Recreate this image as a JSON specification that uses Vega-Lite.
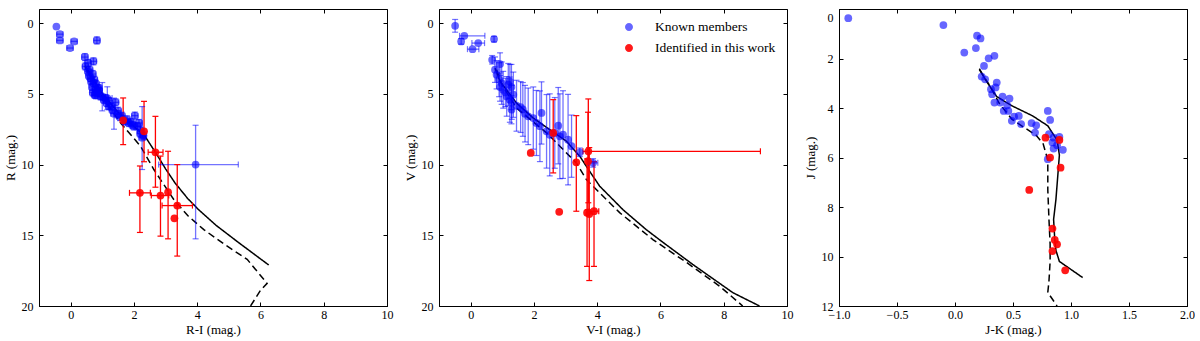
{
"$schema":"https://vega.github.io/schema/vega-lite/v6.json",
"padding":{"left":3,"top":8,"right":0,"bottom":0},
"spacing":52,
"bounds":"flush",
"resolve":{"scale":{"x":"independent","y":"independent","color":"independent","opacity":"independent"}},
"config":{
 "font":"Liberation Serif",
 "view":{"stroke":"black","strokeWidth":1},
 "axis":{"grid":false,"domainColor":"black","tickColor":"black","labelColor":"black","titleColor":"black","labelFontSize":12,"titleFontSize":13,"titleFontWeight":"normal","tickSize":-4,"tickWidth":1,"labelFont":"Liberation Serif","titleFont":"Liberation Serif","labelFlush":false,"labelOverlap":false},
 "axisBottom":{"labelPadding":7,"titleY":23,"titleBaseline":"middle"},
 "axisLeft":{"labelPadding":10,"titleX":-29,"titleBaseline":"middle"},
 "legend":{"labelFont":"Liberation Serif","labelColor":"black"}
},
"datasets":{
"lines":[
{"p":1,"s":"solid","i":0,"x":0.45,"y":3.0},{"p":1,"s":"solid","i":1,"x":0.7,"y":3.9},{"p":1,"s":"solid","i":2,"x":1.0,"y":5.0},{"p":1,"s":"solid","i":3,"x":1.5,"y":6.3},{"p":1,"s":"solid","i":4,"x":2.0,"y":7.3},{"p":1,"s":"solid","i":5,"x":2.35,"y":8.0},{"p":1,"s":"solid","i":6,"x":2.7,"y":9.2},{"p":1,"s":"solid","i":7,"x":3.0,"y":10.3},{"p":1,"s":"solid","i":8,"x":3.3,"y":11.3},{"p":1,"s":"solid","i":9,"x":3.7,"y":12.4},{"p":1,"s":"solid","i":10,"x":4.05,"y":13.2},{"p":1,"s":"solid","i":11,"x":4.6,"y":14.3},{"p":1,"s":"solid","i":12,"x":5.3,"y":15.5},{"p":1,"s":"solid","i":13,"x":6.26,"y":17.1},
{"p":1,"s":"dashed","i":0,"x":0.45,"y":3.05},{"p":1,"s":"dashed","i":1,"x":1.0,"y":5.2},{"p":1,"s":"dashed","i":2,"x":1.58,"y":7.06},{"p":1,"s":"dashed","i":3,"x":2.21,"y":8.7},{"p":1,"s":"dashed","i":4,"x":2.63,"y":10.35},{"p":1,"s":"dashed","i":5,"x":3.0,"y":11.6},{"p":1,"s":"dashed","i":6,"x":3.26,"y":12.47},{"p":1,"s":"dashed","i":7,"x":3.7,"y":13.6},{"p":1,"s":"dashed","i":8,"x":4.21,"y":14.6},{"p":1,"s":"dashed","i":9,"x":4.9,"y":15.7},{"p":1,"s":"dashed","i":10,"x":5.58,"y":16.7},{"p":1,"s":"dashed","i":11,"x":6.21,"y":18.4},{"p":1,"s":"dashed","i":12,"x":6.0,"y":18.9},{"p":1,"s":"dashed","i":13,"x":5.6,"y":20.3},
{"p":2,"s":"solid","i":0,"x":0.77,"y":3.18},{"p":2,"s":"solid","i":1,"x":0.93,"y":4.12},{"p":2,"s":"solid","i":2,"x":1.45,"y":5.65},{"p":2,"s":"solid","i":3,"x":1.98,"y":6.71},{"p":2,"s":"solid","i":4,"x":2.5,"y":7.53},{"p":2,"s":"solid","i":5,"x":3.03,"y":8.35},{"p":2,"s":"solid","i":6,"x":3.45,"y":9.41},{"p":2,"s":"solid","i":7,"x":3.76,"y":10.47},{"p":2,"s":"solid","i":8,"x":4.08,"y":11.53},{"p":2,"s":"solid","i":9,"x":4.82,"y":13.2},{"p":2,"s":"solid","i":10,"x":5.55,"y":14.6},{"p":2,"s":"solid","i":11,"x":6.08,"y":15.5},{"p":2,"s":"solid","i":12,"x":7.02,"y":17.06},{"p":2,"s":"solid","i":13,"x":8.29,"y":19.06},{"p":2,"s":"solid","i":14,"x":9.13,"y":20.0},
{"p":2,"s":"dashed","i":0,"x":0.82,"y":3.29},{"p":2,"s":"dashed","i":1,"x":1.0,"y":4.4},{"p":2,"s":"dashed","i":2,"x":1.45,"y":6.0},{"p":2,"s":"dashed","i":3,"x":2.4,"y":7.76},{"p":2,"s":"dashed","i":4,"x":2.82,"y":8.7},{"p":2,"s":"dashed","i":5,"x":3.34,"y":9.88},{"p":2,"s":"dashed","i":6,"x":3.66,"y":11.06},{"p":2,"s":"dashed","i":7,"x":4.08,"y":12.0},{"p":2,"s":"dashed","i":8,"x":4.71,"y":13.4},{"p":2,"s":"dashed","i":9,"x":5.76,"y":15.3},{"p":2,"s":"dashed","i":10,"x":6.81,"y":16.9},{"p":2,"s":"dashed","i":11,"x":7.87,"y":18.6},{"p":2,"s":"dashed","i":12,"x":8.6,"y":20.0},
{"p":3,"s":"solid","i":0,"x":0.21,"y":2.41},{"p":3,"s":"solid","i":1,"x":0.26,"y":2.84},{"p":3,"s":"solid","i":2,"x":0.36,"y":3.54},{"p":3,"s":"solid","i":3,"x":0.49,"y":3.91},{"p":3,"s":"solid","i":4,"x":0.67,"y":4.32},{"p":3,"s":"solid","i":5,"x":0.8,"y":4.72},{"p":3,"s":"solid","i":6,"x":0.88,"y":5.3},{"p":3,"s":"solid","i":7,"x":0.9,"y":5.9},{"p":3,"s":"solid","i":8,"x":0.89,"y":6.5},{"p":3,"s":"solid","i":9,"x":0.87,"y":7.7},{"p":3,"s":"solid","i":10,"x":0.85,"y":8.5},{"p":3,"s":"solid","i":11,"x":0.86,"y":9.3},{"p":3,"s":"solid","i":12,"x":0.87,"y":9.75},{"p":3,"s":"solid","i":13,"x":0.9,"y":10.2},{"p":3,"s":"solid","i":14,"x":1.1,"y":10.85},
{"p":3,"s":"dashed","i":0,"x":0.21,"y":2.45},{"p":3,"s":"dashed","i":1,"x":0.3,"y":3.1},{"p":3,"s":"dashed","i":2,"x":0.38,"y":3.8},{"p":3,"s":"dashed","i":3,"x":0.49,"y":4.45},{"p":3,"s":"dashed","i":4,"x":0.6,"y":4.8},{"p":3,"s":"dashed","i":5,"x":0.7,"y":5.1},{"p":3,"s":"dashed","i":6,"x":0.76,"y":5.45},{"p":3,"s":"dashed","i":7,"x":0.8,"y":6.1},{"p":3,"s":"dashed","i":8,"x":0.8,"y":7.3},{"p":3,"s":"dashed","i":9,"x":0.81,"y":8.5},{"p":3,"s":"dashed","i":10,"x":0.82,"y":9.5},{"p":3,"s":"dashed","i":11,"x":0.82,"y":10.2},{"p":3,"s":"dashed","i":12,"x":0.81,"y":11.0},{"p":3,"s":"dashed","i":13,"x":0.8,"y":11.45},{"p":3,"s":"dashed","i":14,"x":0.88,"y":12.0}
],
"pts":[
{"p":1,"g":"Known members","x":-0.45,"y":0.24},
{"p":1,"g":"Known members","x":-0.34,"y":0.78,"xlo":-0.44,"xhi":-0.24},
{"p":1,"g":"Known members","x":-0.34,"y":1.22,"xlo":-0.44,"xhi":-0.24},
{"p":1,"g":"Known members","x":-0.02,"y":1.76,"xlo":-0.12,"xhi":0.08},
{"p":1,"g":"Known members","x":0.11,"y":1.29,"xlo":0.01,"xhi":0.21},
{"p":1,"g":"Known members","x":0.83,"y":1.22,"xlo":0.73,"xhi":0.93,"ylo":0.97,"yhi":1.47},
{"p":1,"g":"Known members","x":0.45,"y":2.4,"xlo":0.35,"xhi":0.55,"ylo":2.15,"yhi":2.65},
{"p":1,"g":"Known members","x":0.72,"y":2.7,"xlo":0.62,"xhi":0.82,"ylo":2.45,"yhi":2.95},
{"p":1,"g":"Known members","x":0.55,"y":2.82,"xlo":0.45,"xhi":0.65,"ylo":2.57,"yhi":3.07},
{"p":1,"g":"Known members","x":0.47,"y":3.06,"xlo":0.37,"xhi":0.57,"ylo":2.81,"yhi":3.31},
{"p":1,"g":"Known members","x":0.55,"y":3.41,"xlo":0.45,"xhi":0.65,"ylo":3.16,"yhi":3.66},
{"p":1,"g":"Known members","x":0.58,"y":3.72,"xlo":0.48,"xhi":0.68,"ylo":3.47,"yhi":3.97},
{"p":1,"g":"Known members","x":0.63,"y":3.88,"xlo":0.53,"xhi":0.73,"ylo":3.63,"yhi":4.13},
{"p":1,"g":"Known members","x":0.65,"y":4.12,"xlo":0.55,"xhi":0.75,"ylo":3.87,"yhi":4.37},
{"p":1,"g":"Known members","x":0.72,"y":4.24,"xlo":0.62,"xhi":0.82,"ylo":3.99,"yhi":4.49},
{"p":1,"g":"Known members","x":0.68,"y":4.52,"xlo":0.58,"xhi":0.78,"ylo":4.27,"yhi":4.77},
{"p":1,"g":"Known members","x":0.79,"y":4.71,"xlo":0.69,"xhi":0.89,"ylo":4.46,"yhi":4.96},
{"p":1,"g":"Known members","x":0.76,"y":5.06,"xlo":0.66,"xhi":0.86,"ylo":4.81,"yhi":5.31},
{"p":1,"g":"Known members","x":0.84,"y":4.94,"xlo":0.74,"xhi":0.94,"ylo":4.69,"yhi":5.19},
{"p":1,"g":"Known members","x":0.89,"y":4.59,"xlo":0.79,"xhi":0.99,"ylo":4.34,"yhi":4.84},
{"p":1,"g":"Known members","x":0.95,"y":5.18,"xlo":0.85,"xhi":1.05,"ylo":4.93,"yhi":5.43},
{"p":1,"g":"Known members","x":1.0,"y":5.2,"xlo":0.9,"xhi":1.1,"ylo":4.2,"yhi":6.2},
{"p":1,"g":"Known members","x":1.16,"y":5.3,"xlo":1.01,"xhi":1.31,"ylo":4.5,"yhi":6.1},
{"p":1,"g":"Known members","x":1.05,"y":5.41,"xlo":0.95,"xhi":1.15,"ylo":5.16,"yhi":5.66},
{"p":1,"g":"Known members","x":1.14,"y":5.65,"xlo":1.04,"xhi":1.24,"ylo":5.4,"yhi":5.9},
{"p":1,"g":"Known members","x":1.21,"y":5.88,"xlo":1.11,"xhi":1.31,"ylo":5.63,"yhi":6.13},
{"p":1,"g":"Known members","x":1.42,"y":5.6,"xlo":1.32,"xhi":1.52,"ylo":5.35,"yhi":5.85},
{"p":1,"g":"Known members","x":1.37,"y":6.4,"xlo":1.27,"xhi":1.47,"ylo":5.3,"yhi":7.5},
{"p":1,"g":"Known members","x":1.32,"y":6.12,"xlo":1.22,"xhi":1.42,"ylo":5.87,"yhi":6.37},
{"p":1,"g":"Known members","x":1.48,"y":6.45,"xlo":1.38,"xhi":1.58,"ylo":6.2,"yhi":6.7},
{"p":1,"g":"Known members","x":1.56,"y":6.64,"xlo":1.46,"xhi":1.66,"ylo":6.39,"yhi":6.89},
{"p":1,"g":"Known members","x":1.72,"y":6.95,"xlo":1.62,"xhi":1.82,"ylo":6.7,"yhi":7.2},
{"p":1,"g":"Known members","x":1.84,"y":7.06,"xlo":1.74,"xhi":1.94,"ylo":6.81,"yhi":7.31},
{"p":1,"g":"Known members","x":2.03,"y":6.54,"xlo":1.93,"xhi":2.13,"ylo":6.29,"yhi":6.79},
{"p":1,"g":"Known members","x":1.95,"y":7.18,"xlo":1.85,"xhi":2.05,"ylo":6.93,"yhi":7.43},
{"p":1,"g":"Known members","x":2.11,"y":7.29,"xlo":2.01,"xhi":2.21,"ylo":7.04,"yhi":7.54},
{"p":1,"g":"Known members","x":2.21,"y":7.6,"xlo":2.11,"xhi":2.31,"ylo":7.35,"yhi":7.85},
{"p":1,"g":"Known members","x":2.3,"y":7.95,"xlo":2.2,"xhi":2.4,"ylo":7.7,"yhi":8.2},
{"p":1,"g":"Known members","x":2.16,"y":7.06,"xlo":2.06,"xhi":2.26,"ylo":6.81,"yhi":7.31},
{"p":1,"g":"Known members","x":2.26,"y":8.1,"xlo":2.16,"xhi":2.36,"ylo":5.9,"yhi":10.35},
{"p":1,"g":"Known members","x":0.6,"y":3.3,"xlo":0.5,"xhi":0.7,"ylo":3.05,"yhi":3.55},
{"p":1,"g":"Known members","x":0.7,"y":3.6,"xlo":0.6,"xhi":0.8,"ylo":3.35,"yhi":3.85},
{"p":1,"g":"Known members","x":0.75,"y":4.0,"xlo":0.65,"xhi":0.85,"ylo":3.75,"yhi":4.25},
{"p":1,"g":"Known members","x":0.8,"y":4.3,"xlo":0.7,"xhi":0.9,"ylo":4.05,"yhi":4.55},
{"p":1,"g":"Known members","x":0.85,"y":4.6,"xlo":0.75,"xhi":0.95,"ylo":4.35,"yhi":4.85},
{"p":1,"g":"Known members","x":0.9,"y":4.8,"xlo":0.8,"xhi":1.0,"ylo":4.55,"yhi":5.05},
{"p":1,"g":"Known members","x":0.7,"y":4.9,"xlo":0.6,"xhi":0.8,"ylo":4.65,"yhi":5.15},
{"p":1,"g":"Known members","x":0.8,"y":5.1,"xlo":0.7,"xhi":0.9,"ylo":4.85,"yhi":5.35},
{"p":1,"g":"Known members","x":1.1,"y":5.3,"xlo":1.0,"xhi":1.2,"ylo":5.05,"yhi":5.55},
{"p":1,"g":"Known members","x":1.2,"y":5.5,"xlo":1.1,"xhi":1.3,"ylo":5.25,"yhi":5.75},
{"p":1,"g":"Known members","x":1.3,"y":5.9,"xlo":1.2,"xhi":1.4,"ylo":5.65,"yhi":6.15},
{"p":1,"g":"Known members","x":1.5,"y":6.2,"xlo":1.4,"xhi":1.6,"ylo":5.95,"yhi":6.45},
{"p":1,"g":"Known members","x":1.62,"y":6.55,"xlo":1.52,"xhi":1.72,"ylo":6.3,"yhi":6.8},
{"p":1,"g":"Known members","x":1.78,"y":6.8,"xlo":1.68,"xhi":1.88,"ylo":6.55,"yhi":7.05},
{"p":1,"g":"Known members","x":1.9,"y":7.0,"xlo":1.8,"xhi":2.0,"ylo":6.75,"yhi":7.25},
{"p":1,"g":"Known members","x":2.0,"y":7.3,"xlo":1.9,"xhi":2.1,"ylo":7.05,"yhi":7.55},
{"p":1,"g":"Known members","x":2.2,"y":7.8,"xlo":2.1,"xhi":2.3,"ylo":7.55,"yhi":8.05},
{"p":1,"g":"Known members","x":3.95,"y":10.0,"xlo":2.78,"xhi":5.3,"ylo":7.22,"yhi":15.25},
{"p":1,"g":"Identified in this work","x":1.66,"y":6.87,"ylo":5.29,"yhi":8.59},
{"p":1,"g":"Identified in this work","x":2.32,"y":7.65,"ylo":5.53,"yhi":9.8},
{"p":1,"g":"Identified in this work","x":2.68,"y":9.13,"xlo":2.45,"xhi":2.92,"ylo":6.59,"yhi":11.6},
{"p":1,"g":"Identified in this work","x":2.19,"y":12.0,"xlo":1.86,"xhi":2.52,"ylo":10.1,"yhi":14.8},
{"p":1,"g":"Identified in this work","x":2.84,"y":12.19,"xlo":2.55,"xhi":3.1,"ylo":9.4,"yhi":15.06},
{"p":1,"g":"Identified in this work","x":3.08,"y":11.95,"ylo":9.06,"yhi":15.25},
{"p":1,"g":"Identified in this work","x":3.37,"y":12.9,"xlo":2.89,"xhi":3.85,"ylo":10.0,"yhi":16.47},
{"p":1,"g":"Identified in this work","x":3.28,"y":13.8},
{"p":2,"g":"Known members","x":-0.49,"y":0.19,"ylo":-0.26,"yhi":0.64},
{"p":2,"g":"Known members","x":-0.2,"y":0.9,"xlo":-0.35,"xhi":0.45},
{"p":2,"g":"Known members","x":-0.3,"y":1.29,"ylo":1.09,"yhi":1.49},
{"p":2,"g":"Known members","x":0.24,"y":1.41,"xlo":0.04,"xhi":0.44},
{"p":2,"g":"Known members","x":0.06,"y":1.84,"xlo":-0.1,"xhi":0.26},
{"p":2,"g":"Known members","x":0.74,"y":1.13,"ylo":0.93,"yhi":1.33},
{"p":2,"g":"Known members","x":0.68,"y":2.59,"ylo":2.29,"yhi":2.89},
{"p":2,"g":"Known members","x":0.93,"y":2.89,"ylo":2.1,"yhi":3.7},
{"p":2,"g":"Known members","x":0.77,"y":3.29,"ylo":2.39,"yhi":4.19},
{"p":2,"g":"Known members","x":0.82,"y":3.65,"ylo":2.65,"yhi":4.65},
{"p":2,"g":"Known members","x":0.9,"y":4.0,"ylo":2.8,"yhi":5.2},
{"p":2,"g":"Known members","x":0.98,"y":4.24,"ylo":2.74,"yhi":5.74},
{"p":2,"g":"Known members","x":0.93,"y":4.52,"ylo":3.52,"yhi":5.52},
{"p":2,"g":"Known members","x":1.03,"y":4.71,"ylo":3.41,"yhi":6.01},
{"p":2,"g":"Known members","x":1.19,"y":4.35,"ylo":2.85,"yhi":5.85},
{"p":2,"g":"Known members","x":1.24,"y":4.12,"ylo":2.92,"yhi":5.32},
{"p":2,"g":"Known members","x":1.29,"y":4.52,"ylo":2.92,"yhi":6.12},
{"p":2,"g":"Known members","x":1.14,"y":5.18,"ylo":3.78,"yhi":6.58},
{"p":2,"g":"Known members","x":1.24,"y":5.41,"ylo":3.81,"yhi":7.01},
{"p":2,"g":"Known members","x":1.35,"y":5.06,"ylo":3.46,"yhi":6.66},
{"p":2,"g":"Known members","x":1.29,"y":6.12,"ylo":5.12,"yhi":7.12},
{"p":2,"g":"Known members","x":1.45,"y":5.84,"ylo":4.04,"yhi":7.64},
{"p":2,"g":"Known members","x":1.58,"y":5.93,"ylo":4.13,"yhi":7.73},
{"p":2,"g":"Known members","x":1.82,"y":6.59,"ylo":4.59,"yhi":8.59},
{"p":2,"g":"Known members","x":1.98,"y":6.71,"ylo":4.51,"yhi":8.91},
{"p":2,"g":"Known members","x":2.08,"y":7.06,"ylo":4.76,"yhi":9.36},
{"p":2,"g":"Known members","x":2.24,"y":6.35,"ylo":4.15,"yhi":8.55},
{"p":2,"g":"Known members","x":2.19,"y":7.29,"ylo":4.79,"yhi":9.79},
{"p":2,"g":"Known members","x":2.4,"y":7.65,"ylo":5.05,"yhi":10.25},
{"p":2,"g":"Known members","x":2.77,"y":7.25,"ylo":4.55,"yhi":9.95},
{"p":2,"g":"Known members","x":2.82,"y":8.0,"ylo":5.0,"yhi":11.0},
{"p":2,"g":"Known members","x":2.92,"y":7.88,"ylo":4.78,"yhi":10.98},
{"p":2,"g":"Known members","x":3.08,"y":8.24,"ylo":5.04,"yhi":11.44},
{"p":2,"g":"Known members","x":3.19,"y":8.7,"ylo":6.5,"yhi":10.9},
{"p":2,"g":"Known members","x":3.45,"y":9.13,"ylo":8.83,"yhi":9.43},
{"p":2,"g":"Known members","x":3.87,"y":9.88,"xlo":3.72,"xhi":4.02,"ylo":9.58,"yhi":10.18},
{"p":2,"g":"Known members","x":2.66,"y":7.76,"ylo":5.26,"yhi":10.26},
{"p":2,"g":"Known members","x":1.65,"y":6.1,"ylo":4.2,"yhi":8.0},
{"p":2,"g":"Known members","x":1.72,"y":6.4,"ylo":4.4,"yhi":8.4},
{"p":2,"g":"Known members","x":1.1,"y":4.9,"ylo":3.9,"yhi":5.9},
{"p":2,"g":"Known members","x":1.3,"y":5.6,"ylo":4.4,"yhi":6.8},
{"p":2,"g":"Known members","x":2.5,"y":7.9,"ylo":5.0,"yhi":10.8},
{"p":2,"g":"Identified in this work","x":1.9,"y":9.18},
{"p":2,"g":"Identified in this work","x":2.61,"y":7.76,"ylo":5.41,"yhi":10.59},
{"p":2,"g":"Identified in this work","x":2.8,"y":13.34},
{"p":2,"g":"Identified in this work","x":3.34,"y":9.84,"ylo":6.54,"yhi":13.3},
{"p":2,"g":"Identified in this work","x":3.72,"y":9.06,"xlo":3.55,"xhi":9.16,"ylo":5.36,"yhi":12.7},
{"p":2,"g":"Identified in this work","x":3.71,"y":9.76,"ylo":6.3,"yhi":13.2},
{"p":2,"g":"Identified in this work","x":3.68,"y":13.4,"ylo":9.6,"yhi":17.2},
{"p":2,"g":"Identified in this work","x":3.75,"y":13.5,"ylo":8.8,"yhi":18.2},
{"p":2,"g":"Identified in this work","x":3.9,"y":13.3,"xlo":3.75,"xhi":4.05,"ylo":9.8,"yhi":17.2},
{"p":3,"g":"Known members","x":-0.92,"y":0.37},{"p":3,"g":"Known members","x":-0.1,"y":0.65},{"p":3,"g":"Known members","x":0.19,"y":1.08},{"p":3,"g":"Known members","x":0.22,"y":1.19},{"p":3,"g":"Known members","x":0.08,"y":1.76},{"p":3,"g":"Known members","x":0.18,"y":1.58},{"p":3,"g":"Known members","x":0.29,"y":1.99},{"p":3,"g":"Known members","x":0.34,"y":1.89},{"p":3,"g":"Known members","x":0.25,"y":2.3},{"p":3,"g":"Known members","x":0.23,"y":2.73},{"p":3,"g":"Known members","x":0.26,"y":2.84},{"p":3,"g":"Known members","x":0.36,"y":2.97},{"p":3,"g":"Known members","x":0.31,"y":3.24},{"p":3,"g":"Known members","x":0.35,"y":3.17},{"p":3,"g":"Known members","x":0.32,"y":3.44},{"p":3,"g":"Known members","x":0.34,"y":3.78},{"p":3,"g":"Known members","x":0.41,"y":3.54},{"p":3,"g":"Known members","x":0.47,"y":3.62},{"p":3,"g":"Known members","x":0.39,"y":3.78},{"p":3,"g":"Known members","x":0.45,"y":3.89},{"p":3,"g":"Known members","x":0.42,"y":4.12},{"p":3,"g":"Known members","x":0.46,"y":4.12},{"p":3,"g":"Known members","x":0.51,"y":4.35},{"p":3,"g":"Known members","x":0.55,"y":4.32},{"p":3,"g":"Known members","x":0.49,"y":4.52},{"p":3,"g":"Known members","x":0.57,"y":4.65},{"p":3,"g":"Known members","x":0.66,"y":4.61},{"p":3,"g":"Known members","x":0.7,"y":4.7},{"p":3,"g":"Known members","x":0.69,"y":4.99},{"p":3,"g":"Known members","x":0.8,"y":4.12},{"p":3,"g":"Known members","x":0.82,"y":4.48},{"p":3,"g":"Known members","x":0.81,"y":5.06},{"p":3,"g":"Known members","x":0.85,"y":5.2},{"p":3,"g":"Known members","x":0.9,"y":5.17},{"p":3,"g":"Known members","x":0.88,"y":5.5},{"p":3,"g":"Known members","x":0.85,"y":5.64},{"p":3,"g":"Known members","x":0.93,"y":5.69},{"p":3,"g":"Known members","x":0.84,"y":5.39},{"p":3,"g":"Known members","x":0.8,"y":6.07},
{"p":3,"g":"Identified in this work","x":0.78,"y":5.2},{"p":3,"g":"Identified in this work","x":0.9,"y":5.29},{"p":3,"g":"Identified in this work","x":0.82,"y":6.0},{"p":3,"g":"Identified in this work","x":0.91,"y":6.41},{"p":3,"g":"Identified in this work","x":0.64,"y":7.31},{"p":3,"g":"Identified in this work","x":0.84,"y":8.87},{"p":3,"g":"Identified in this work","x":0.86,"y":9.33},{"p":3,"g":"Identified in this work","x":0.88,"y":9.51},{"p":3,"g":"Identified in this work","x":0.84,"y":9.78},{"p":3,"g":"Identified in this work","x":0.95,"y":10.56}
]
},
"hconcat":[
{
 "width":348,"height":297,
 "resolve":{"axis":{"x":"independent","y":"independent"}},
 "layer":[
  {"data":{"name":"lines"},"transform":[{"filter":"datum.p===1"}],
   "mark":{"type":"line","color":"black","strokeWidth":1.5,"clip":true},
   "encoding":{
    "x":{"field":"x","type":"quantitative","scale":{"domain":[-1,10],"nice":false,"zero":false},"axis":{"orient":"top","values":[0,2,4,6,8,10],"labels":false,"title":null,"domain":false}},
    "y":{"field":"y","type":"quantitative","scale":{"domain":[-1,20],"nice":false,"zero":false,"reverse":true},"axis":{"orient":"right","values":[0,5,10,15,20],"labels":false,"title":null,"domain":false}},
    "detail":{"field":"s"},
    "strokeDash":{"field":"s","type":"nominal","scale":{"domain":["solid","dashed"],"range":[[1,0],[7,4]]},"legend":null},
    "order":{"field":"i"}}},
  {"data":{"name":"pts"},"transform":[{"filter":"datum.p===1 && isValid(datum.ylo)"}],
   "mark":{"type":"rule","strokeWidth":1.3},
   "encoding":{
    "x":{"field":"x","type":"quantitative","scale":{"domain":[-1,10],"nice":false,"zero":false},"axis":null},
    "y":{"field":"ylo","type":"quantitative","scale":{"domain":[-1,20],"nice":false,"zero":false,"reverse":true},"axis":null},
    "y2":{"field":"yhi"},
    "color":{"condition":{"test":"datum.g==='Known members'","value":"#0000ff"},"value":"#ff0000"},
    "opacity":{"condition":{"test":"datum.g==='Known members'","value":0.55},"value":1}}},
  {"data":{"name":"pts"},"transform":[{"filter":"datum.p===1 && isValid(datum.xlo)"}],
   "mark":{"type":"rule","strokeWidth":1.3},
   "encoding":{
    "x":{"field":"xlo","type":"quantitative","scale":{"domain":[-1,10],"nice":false,"zero":false},"axis":null},
    "x2":{"field":"xhi"},
    "y":{"field":"y","type":"quantitative","scale":{"domain":[-1,20],"nice":false,"zero":false,"reverse":true},"axis":null},
    "color":{"condition":{"test":"datum.g==='Known members'","value":"#0000ff"},"value":"#ff0000"},
    "opacity":{"condition":{"test":"datum.g==='Known members'","value":0.55},"value":1}}},
  {"data":{"name":"pts"},"transform":[{"filter":"datum.p===1"},{"fold":["ylo","yhi"],"as":["k","v"]},{"filter":"isValid(datum.v)"}],
   "mark":{"type":"tick","orient":"horizontal","size":6,"thickness":1.2},
   "encoding":{
    "x":{"field":"x","type":"quantitative","scale":{"domain":[-1,10],"nice":false,"zero":false},"axis":null},
    "y":{"field":"v","type":"quantitative","scale":{"domain":[-1,20],"nice":false,"zero":false,"reverse":true},"axis":null},
    "color":{"condition":{"test":"datum.g==='Known members'","value":"#0000ff"},"value":"#ff0000"},
    "opacity":{"condition":{"test":"datum.g==='Known members'","value":0.55},"value":1}}},
  {"data":{"name":"pts"},"transform":[{"filter":"datum.p===1"},{"fold":["xlo","xhi"],"as":["k","v"]},{"filter":"isValid(datum.v)"}],
   "mark":{"type":"tick","orient":"vertical","size":6,"thickness":1.2},
   "encoding":{
    "x":{"field":"v","type":"quantitative","scale":{"domain":[-1,10],"nice":false,"zero":false},"axis":null},
    "y":{"field":"y","type":"quantitative","scale":{"domain":[-1,20],"nice":false,"zero":false,"reverse":true},"axis":null},
    "color":{"condition":{"test":"datum.g==='Known members'","value":"#0000ff"},"value":"#ff0000"},
    "opacity":{"condition":{"test":"datum.g==='Known members'","value":0.55},"value":1}}},
  {"data":{"name":"pts"},"transform":[{"filter":"datum.p===1"}],
   "mark":{"type":"point","filled":true,"shape":"circle","size":60},
   "encoding":{
    "x":{"field":"x","type":"quantitative","scale":{"domain":[-1,10],"nice":false,"zero":false},"axis":{"orient":"bottom","values":[0,2,4,6,8,10],"title":"R-I (mag.)"}},
    "y":{"field":"y","type":"quantitative","scale":{"domain":[-1,20],"nice":false,"zero":false,"reverse":true},"axis":{"orient":"left","values":[0,5,10,15,20],"title":"R (mag.)"}},
    "color":{"condition":{"test":"datum.g==='Known members'","value":"#0000ff"},"value":"#ff0000"},
    "opacity":{"condition":{"test":"datum.g==='Known members'","value":0.6},"value":0.9}}}
 ]
},
{
 "width":348,"height":297,
 "resolve":{"axis":{"x":"independent","y":"independent"}},
 "layer":[
  {"data":{"name":"lines"},"transform":[{"filter":"datum.p===2"}],
   "mark":{"type":"line","color":"black","strokeWidth":1.5,"clip":true},
   "encoding":{
    "x":{"field":"x","type":"quantitative","scale":{"domain":[-1,10],"nice":false,"zero":false},"axis":{"orient":"top","values":[0,2,4,6,8,10],"labels":false,"title":null,"domain":false}},
    "y":{"field":"y","type":"quantitative","scale":{"domain":[-1,20],"nice":false,"zero":false,"reverse":true},"axis":{"orient":"right","values":[0,5,10,15,20],"labels":false,"title":null,"domain":false}},
    "detail":{"field":"s"},
    "strokeDash":{"field":"s","type":"nominal","scale":{"domain":["solid","dashed"],"range":[[1,0],[7,4]]},"legend":null},
    "order":{"field":"i"}}},
  {"data":{"name":"pts"},"transform":[{"filter":"datum.p===2 && isValid(datum.ylo)"}],
   "mark":{"type":"rule","strokeWidth":1.3},
   "encoding":{
    "x":{"field":"x","type":"quantitative","scale":{"domain":[-1,10],"nice":false,"zero":false},"axis":null},
    "y":{"field":"ylo","type":"quantitative","scale":{"domain":[-1,20],"nice":false,"zero":false,"reverse":true},"axis":null},
    "y2":{"field":"yhi"},
    "color":{"condition":{"test":"datum.g==='Known members'","value":"#0000ff"},"value":"#ff0000"},
    "opacity":{"condition":{"test":"datum.g==='Known members'","value":0.55},"value":1}}},
  {"data":{"name":"pts"},"transform":[{"filter":"datum.p===2 && isValid(datum.xlo)"}],
   "mark":{"type":"rule","strokeWidth":1.3},
   "encoding":{
    "x":{"field":"xlo","type":"quantitative","scale":{"domain":[-1,10],"nice":false,"zero":false},"axis":null},
    "x2":{"field":"xhi"},
    "y":{"field":"y","type":"quantitative","scale":{"domain":[-1,20],"nice":false,"zero":false,"reverse":true},"axis":null},
    "color":{"condition":{"test":"datum.g==='Known members'","value":"#0000ff"},"value":"#ff0000"},
    "opacity":{"condition":{"test":"datum.g==='Known members'","value":0.55},"value":1}}},
  {"data":{"name":"pts"},"transform":[{"filter":"datum.p===2"},{"fold":["ylo","yhi"],"as":["k","v"]},{"filter":"isValid(datum.v)"}],
   "mark":{"type":"tick","orient":"horizontal","size":6,"thickness":1.2},
   "encoding":{
    "x":{"field":"x","type":"quantitative","scale":{"domain":[-1,10],"nice":false,"zero":false},"axis":null},
    "y":{"field":"v","type":"quantitative","scale":{"domain":[-1,20],"nice":false,"zero":false,"reverse":true},"axis":null},
    "color":{"condition":{"test":"datum.g==='Known members'","value":"#0000ff"},"value":"#ff0000"},
    "opacity":{"condition":{"test":"datum.g==='Known members'","value":0.55},"value":1}}},
  {"data":{"name":"pts"},"transform":[{"filter":"datum.p===2"},{"fold":["xlo","xhi"],"as":["k","v"]},{"filter":"isValid(datum.v)"}],
   "mark":{"type":"tick","orient":"vertical","size":6,"thickness":1.2},
   "encoding":{
    "x":{"field":"v","type":"quantitative","scale":{"domain":[-1,10],"nice":false,"zero":false},"axis":null},
    "y":{"field":"y","type":"quantitative","scale":{"domain":[-1,20],"nice":false,"zero":false,"reverse":true},"axis":null},
    "color":{"condition":{"test":"datum.g==='Known members'","value":"#0000ff"},"value":"#ff0000"},
    "opacity":{"condition":{"test":"datum.g==='Known members'","value":0.55},"value":1}}},
  {"data":{"name":"pts"},"transform":[{"filter":"datum.p===2"}],
   "mark":{"type":"point","filled":true,"shape":"circle","size":60},
   "encoding":{
    "x":{"field":"x","type":"quantitative","scale":{"domain":[-1,10],"nice":false,"zero":false},"axis":{"orient":"bottom","values":[0,2,4,6,8,10],"title":"V-I (mag.)"}},
    "y":{"field":"y","type":"quantitative","scale":{"domain":[-1,20],"nice":false,"zero":false,"reverse":true},"axis":{"orient":"left","values":[0,5,10,15,20],"title":"V (mag.)"}},
    "color":{"field":"g","type":"nominal","scale":{"domain":["Known members","Identified in this work"],"range":["#0000ff","#ff0000"]},
      "legend":{"orient":"none","legendX":182,"legendY":10,"title":null,"padding":0,"rowPadding":6,"labelOffset":18,"labelFontSize":13.5,"labelFont":"Liberation Serif","labelColor":"black",
        "symbolType":"M-0.57,0A0.57,0.57,0,1,0,0.57,0A0.57,0.57,0,1,0,-0.57,0Z M-1,0L1,0 M0,-1L0,1 M-1,-0.25L-1,0.25 M1,-0.25L1,0.25 M-0.25,-1L0.25,-1 M-0.25,1L0.25,1",
        "symbolSize":196,"symbolStrokeWidth":1.2,
        "encode":{"symbols":{"update":{"stroke":{"signal":"datum.value==='Known members'?'#0000ff':'#ff0000'"},"opacity":{"signal":"datum.value==='Known members'?0.6:1"}}}}}},
    "opacity":{"field":"g","type":"nominal","scale":{"domain":["Known members","Identified in this work"],"range":[0.6,0.9]},"legend":null}}}
 ]
},
{
 "width":348,"height":297,
 "resolve":{"axis":{"x":"independent","y":"independent"}},
 "layer":[
  {"data":{"name":"lines"},"transform":[{"filter":"datum.p===3"}],
   "mark":{"type":"line","color":"black","strokeWidth":1.5,"clip":true},
   "encoding":{
    "x":{"field":"x","type":"quantitative","scale":{"domain":[-1,2],"nice":false,"zero":false},"axis":{"orient":"top","values":[-1,-0.5,0,0.5,1,1.5,2],"labels":false,"title":null,"domain":false}},
    "y":{"field":"y","type":"quantitative","scale":{"domain":[0,12],"nice":false,"zero":false,"reverse":true},"axis":{"orient":"right","values":[0,2,4,6,8,10,12],"labels":false,"title":null,"domain":false}},
    "detail":{"field":"s"},
    "strokeDash":{"field":"s","type":"nominal","scale":{"domain":["solid","dashed"],"range":[[1,0],[7,4]]},"legend":null},
    "order":{"field":"i"}}},
  {"data":{"name":"pts"},"transform":[{"filter":"datum.p===3"}],
   "mark":{"type":"point","filled":true,"shape":"circle","size":60},
   "encoding":{
    "x":{"field":"x","type":"quantitative","scale":{"domain":[-1,2],"nice":false,"zero":false},"axis":{"orient":"bottom","values":[-1,-0.5,0,0.5,1,1.5,2],"format":".1f","title":"J-K (mag.)"}},
    "y":{"field":"y","type":"quantitative","scale":{"domain":[0,12],"nice":false,"zero":false,"reverse":true},"axis":{"orient":"left","values":[0,2,4,6,8,10,12],"title":"J (mag.)","labelOffset":{"condition":{"test":"datum.value == 0","value":8},"value":0}}},
    "color":{"condition":{"test":"datum.g==='Known members'","value":"#0000ff"},"value":"#ff0000"},
    "opacity":{"condition":{"test":"datum.g==='Known members'","value":0.6},"value":0.9}}}
 ]
}
]
}
